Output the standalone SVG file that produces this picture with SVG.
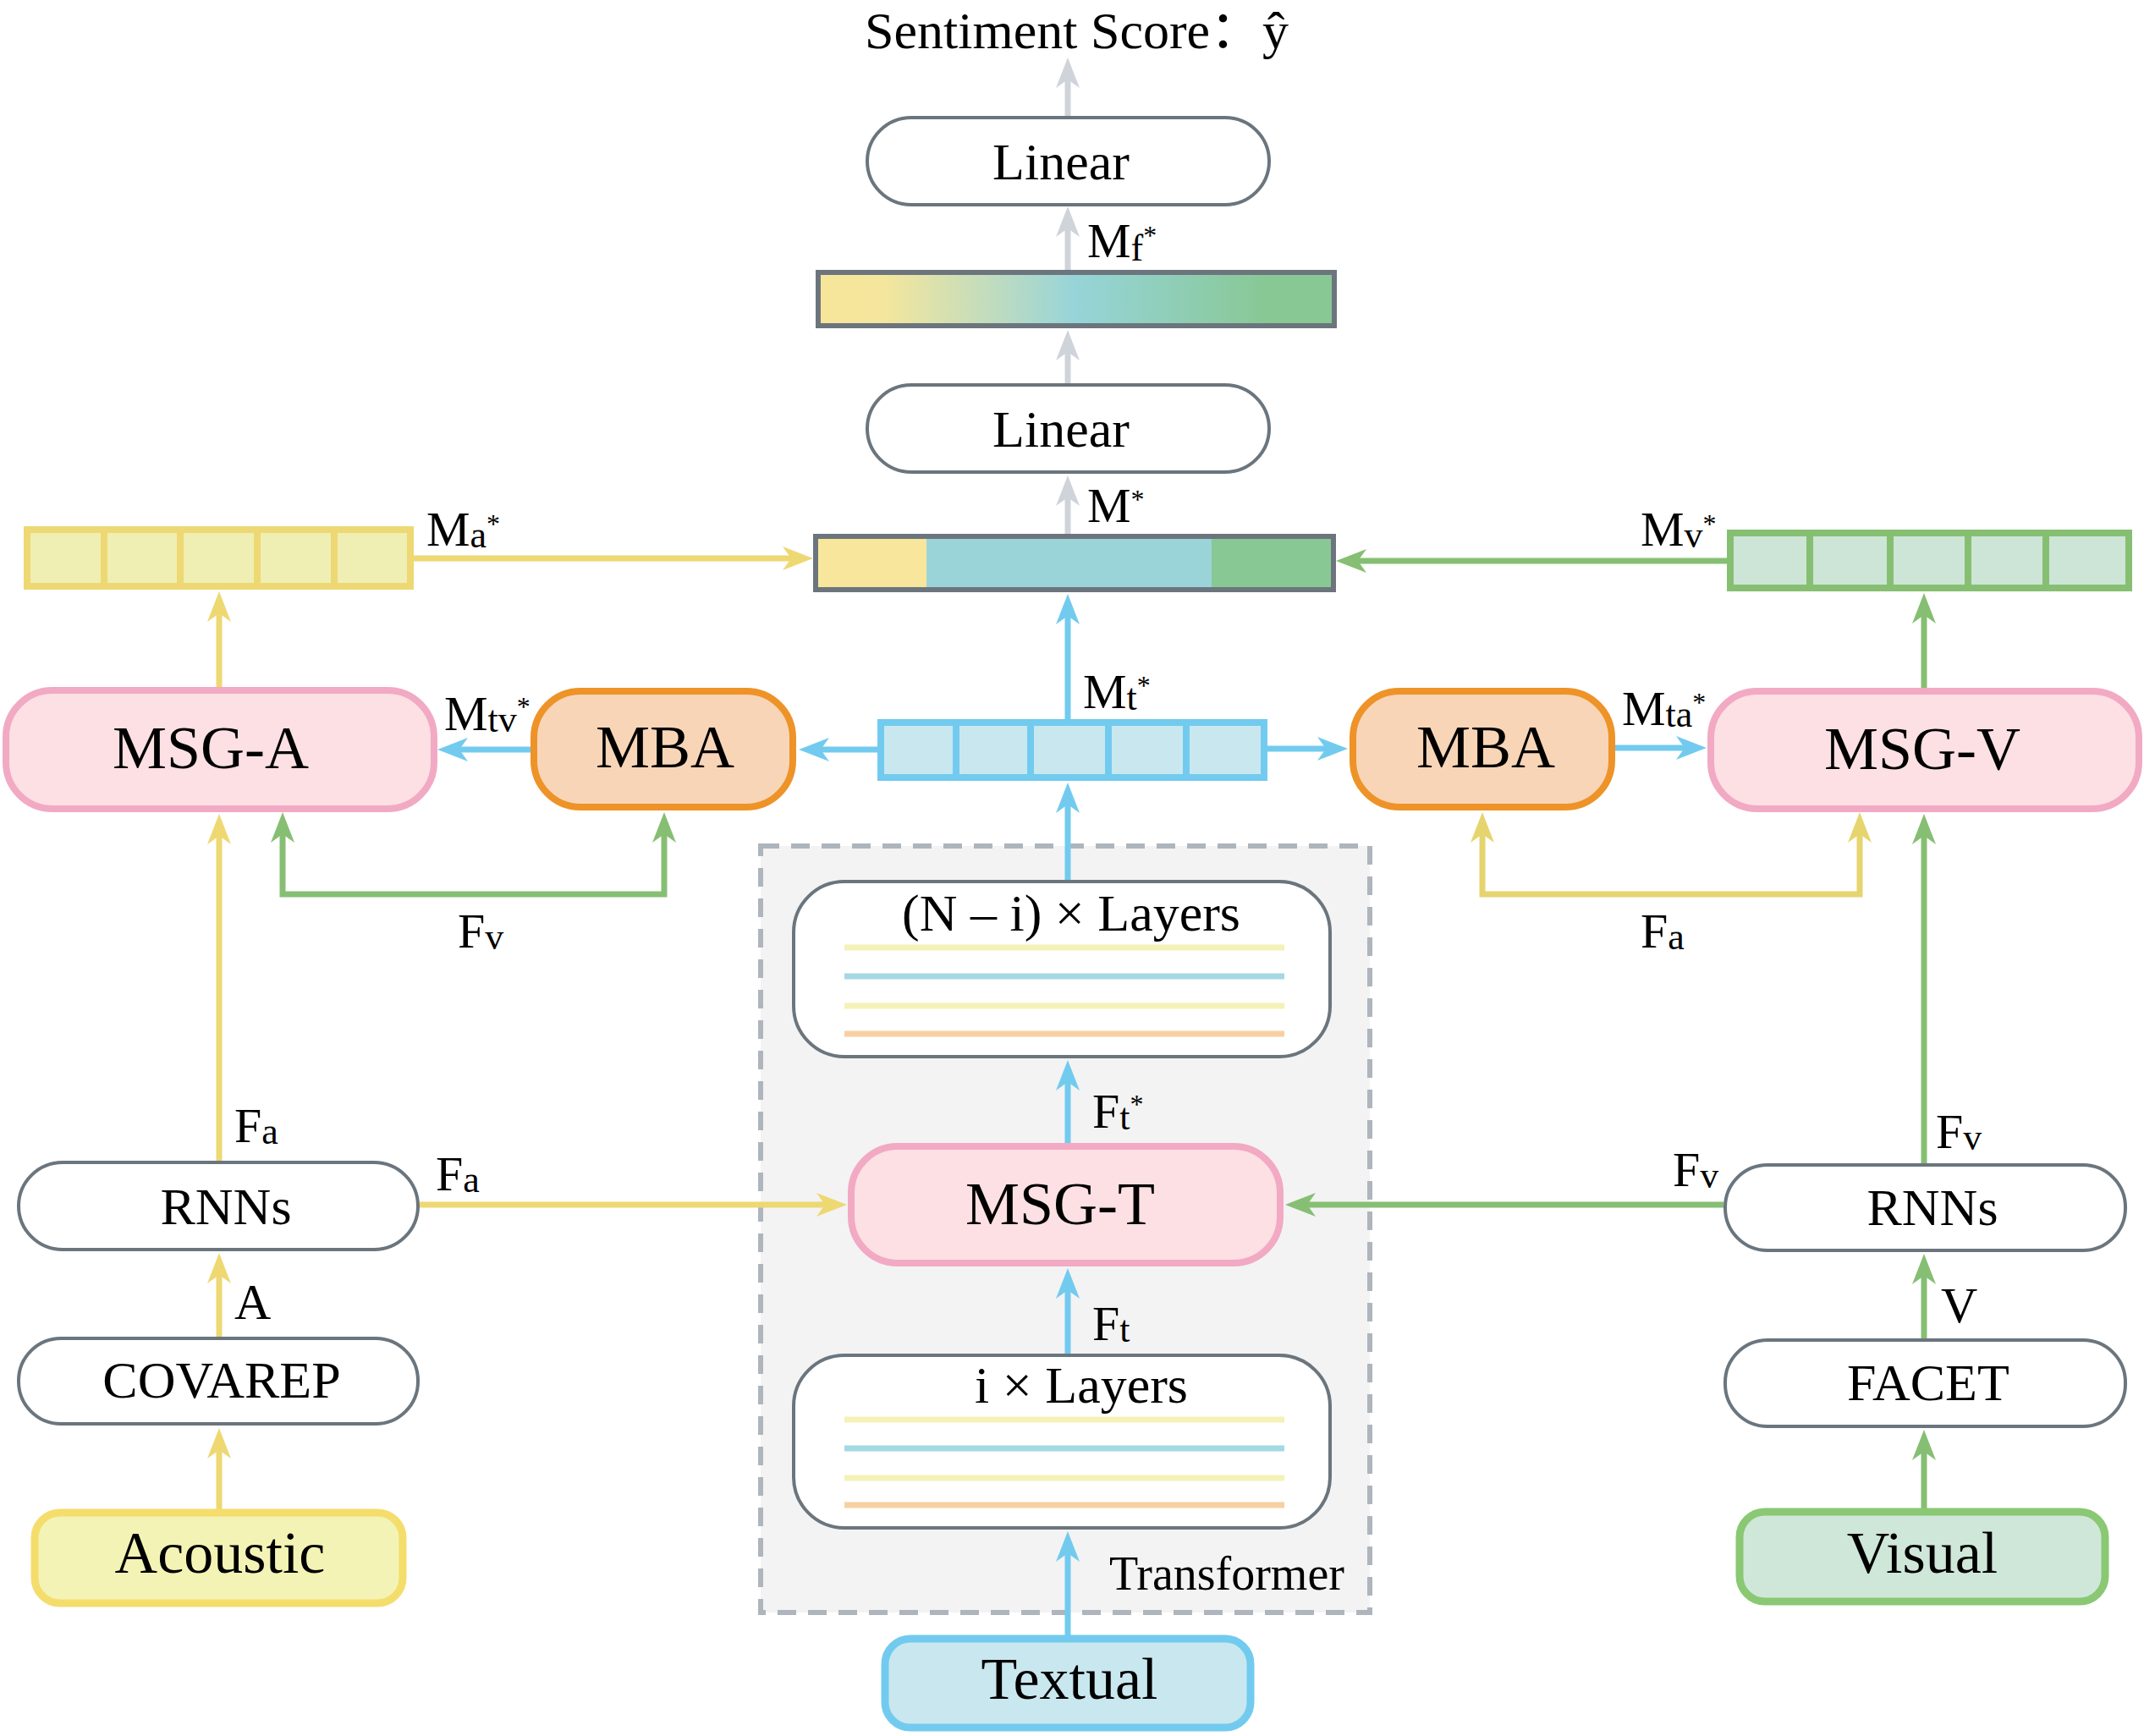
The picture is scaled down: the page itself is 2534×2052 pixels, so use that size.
<svg xmlns="http://www.w3.org/2000/svg" width="2534" height="2052" viewBox="0 0 2534 2052">
<style>
text{font-family:"Liberation Serif","Noto Sans CJK SC",serif;fill:#000}
.t62{font-size:62px;text-anchor:middle}
.t72{font-size:72px;text-anchor:middle}
.t70{font-size:70px;text-anchor:middle}
.lbl{font-size:58px}
.sub{font-size:44px}
.sup{font-size:32px}
.pill{fill:#fff;stroke:#6b757d;stroke-width:4}
.msg{fill:#fce0e3;stroke:#f2a9c4;stroke-width:8}
.mba{fill:#f9d5b8;stroke:#ee9328;stroke-width:8}
.c{fill:none;stroke-width:7}
.gy{stroke:#cfd4da}.bl{stroke:#72cbef}.ye{stroke:#eed872}.gr{stroke:#86bf73}.ye2{stroke:#e6d46f}
.lay{stroke-width:7}
</style>
<defs>
<marker id="mg" markerUnits="userSpaceOnUse" markerWidth="40" markerHeight="32" viewBox="0 -16 40 32" refX="10" refY="0" orient="auto"><path d="M0,-14 L36,0 L0,14 L10,0 Z" fill="#cfd4da"/></marker>
<marker id="mb" markerUnits="userSpaceOnUse" markerWidth="40" markerHeight="32" viewBox="0 -16 40 32" refX="10" refY="0" orient="auto"><path d="M0,-14 L36,0 L0,14 L10,0 Z" fill="#72cbef"/></marker>
<marker id="my" markerUnits="userSpaceOnUse" markerWidth="40" markerHeight="32" viewBox="0 -16 40 32" refX="10" refY="0" orient="auto"><path d="M0,-14 L36,0 L0,14 L10,0 Z" fill="#eed872"/></marker>
<marker id="my2" markerUnits="userSpaceOnUse" markerWidth="40" markerHeight="32" viewBox="0 -16 40 32" refX="10" refY="0" orient="auto-start-reverse"><path d="M0,-14 L36,0 L0,14 L10,0 Z" fill="#e6d46f"/></marker>
<marker id="mn" markerUnits="userSpaceOnUse" markerWidth="40" markerHeight="32" viewBox="0 -16 40 32" refX="10" refY="0" orient="auto"><path d="M0,-14 L36,0 L0,14 L10,0 Z" fill="#86bf73"/></marker>
<marker id="mn2" markerUnits="userSpaceOnUse" markerWidth="40" markerHeight="32" viewBox="0 -16 40 32" refX="10" refY="0" orient="auto-start-reverse"><path d="M0,-14 L36,0 L0,14 L10,0 Z" fill="#86bf73"/></marker>
<linearGradient id="grad" gradientUnits="userSpaceOnUse" x1="967" y1="0" x2="1577" y2="0">
<stop offset="0" stop-color="#f7e69a"/><stop offset="0.13" stop-color="#f4e69d"/><stop offset="0.5" stop-color="#96d4d9"/><stop offset="0.87" stop-color="#88c894"/><stop offset="1" stop-color="#88c894"/>
</linearGradient>
</defs>

<!-- transformer container -->
<g id="transformer">
<rect x="899" y="1000" width="720" height="906" fill="#f3f3f3" stroke="#aeb5bc" stroke-width="6" stroke-dasharray="22 14"/>
<text x="1311" y="1879" font-size="56">Transformer</text>
</g>

<g id="connectors">
<!-- gray -->
<line class="c gy" x1="1262" y1="139" x2="1262" y2="94" marker-end="url(#mg)"/>
<line class="c gy" x1="1262" y1="319" x2="1262" y2="270" marker-end="url(#mg)"/>
<line class="c gy" x1="1262" y1="453" x2="1262" y2="416" marker-end="url(#mg)"/>
<line class="c gy" x1="1262" y1="631" x2="1262" y2="588" marker-end="url(#mg)"/>
<!-- blue -->
<line class="c bl" x1="1262" y1="850" x2="1262" y2="728" marker-end="url(#mb)"/>
<line class="c bl" x1="1037" y1="886" x2="970" y2="886" marker-end="url(#mb)"/>
<line class="c bl" x1="1498" y1="885" x2="1567" y2="885" marker-end="url(#mb)"/>
<line class="c bl" x1="629" y1="886" x2="543" y2="886" marker-end="url(#mb)"/>
<line class="c bl" x1="1909" y1="884" x2="1991" y2="884" marker-end="url(#mb)"/>
<line class="c bl" x1="1262" y1="1040" x2="1262" y2="951" marker-end="url(#mb)"/>
<line class="c bl" x1="1262" y1="1351" x2="1262" y2="1279" marker-end="url(#mb)"/>
<line class="c bl" x1="1262" y1="1601" x2="1262" y2="1525" marker-end="url(#mb)"/>
<line class="c bl" x1="1262" y1="1935" x2="1262" y2="1836" marker-end="url(#mb)"/>
<!-- yellow -->
<line class="c ye" x1="489" y1="660" x2="935" y2="660" marker-end="url(#my)"/>
<line class="c ye" x1="259" y1="812" x2="259" y2="725" marker-end="url(#my)"/>
<line class="c ye" x1="259" y1="1372" x2="259" y2="988" marker-end="url(#my)"/>
<line class="c ye" x1="259" y1="1580" x2="259" y2="1507" marker-end="url(#my)"/>
<line class="c ye" x1="259" y1="1784" x2="259" y2="1714" marker-end="url(#my)"/>
<line class="c ye" x1="496" y1="1424" x2="975" y2="1424" marker-end="url(#my)"/>
<path class="c ye2" d="M1752,986 L1752,1057 L2198,1057 L2198,986" marker-start="url(#my2)" marker-end="url(#my2)"/>
<!-- green -->
<line class="c gr" x1="2041" y1="663" x2="1605" y2="663" marker-end="url(#mn)"/>
<line class="c gr" x1="2274" y1="813" x2="2274" y2="727" marker-end="url(#mn)"/>
<line class="c gr" x1="2274" y1="1375" x2="2274" y2="988" marker-end="url(#mn)"/>
<line class="c gr" x1="2274" y1="1582" x2="2274" y2="1508" marker-end="url(#mn)"/>
<line class="c gr" x1="2274" y1="1783" x2="2274" y2="1716" marker-end="url(#mn)"/>
<line class="c gr" x1="2037" y1="1424" x2="1545" y2="1424" marker-end="url(#mn)"/>
<path class="c gr" d="M334,986 L334,1057 L785,1057 L785,986" marker-start="url(#mn2)" marker-end="url(#mn2)"/>
</g>

<g id="title"><text x="1022" y="57" font-size="62">Sentiment Score：ŷ</text></g>

<g id="linear1"><rect class="pill" x="1025" y="139" width="475" height="103" rx="52"/><text class="t62" x="1254" y="212">Linear</text></g>
<g id="fused-bar"><rect x="967" y="322" width="610" height="63" fill="url(#grad)" stroke="#6c757d" stroke-width="6"/></g>
<g id="linear2"><rect class="pill" x="1025" y="455" width="475" height="103" rx="52"/><text class="t62" x="1254" y="528">Linear</text></g>
<g id="concat-bar">
<rect x="967" y="637" width="128" height="57" fill="#f7e69c"/>
<rect x="1095" y="637" width="337" height="57" fill="#9bd4d8"/>
<rect x="1432" y="637" width="141" height="57" fill="#88c894"/>
<rect x="964" y="634" width="612" height="63" fill="none" stroke="#6c757d" stroke-width="6"/>
</g>

<g id="ma-bar">
<rect x="32" y="626" width="453" height="67" fill="#efeeb3" stroke="#edd873" stroke-width="8"/>
<path d="M123,626V693M213,626V693M304,626V693M395,626V693" stroke="#edd873" stroke-width="8"/>
</g>
<g id="mv-bar">
<rect x="2045" y="630" width="471" height="65" fill="#cde5d6" stroke="#86bf72" stroke-width="8"/>
<path d="M2139,630V695M2234,630V695M2326,630V695M2418,630V695" stroke="#86bf72" stroke-width="8"/>
</g>
<g id="mt-bar">
<rect x="1041" y="854" width="453" height="65" fill="#c9e7ef" stroke="#72cbef" stroke-width="8"/>
<path d="M1130,854V919M1218,854V919M1310,854V919M1402,854V919" stroke="#72cbef" stroke-width="8"/>
</g>

<g id="msg-a"><rect class="msg" x="7" y="816" width="506" height="140" rx="55"/><text class="t72" x="249" y="908">MSG-A</text></g>
<g id="mba-left"><rect class="mba" x="631" y="817" width="306" height="137" rx="55"/><text class="t72" x="786" y="907">MBA</text></g>
<g id="mba-right"><rect class="mba" x="1599" y="817" width="306" height="137" rx="55"/><text class="t72" x="1756" y="907">MBA</text></g>
<g id="msg-v"><rect class="msg" x="2022" y="817" width="506" height="139" rx="55"/><text class="t72" x="2272" y="909">MSG-V</text></g>

<g id="layers-top">
<rect class="pill" x="938" y="1042" width="634" height="207" rx="60"/>
<text class="t62" x="1266" y="1100">(N – i) × Layers</text>
<line class="lay" x1="998" y1="1120" x2="1518" y2="1120" stroke="#f4f2b6"/>
<line class="lay" x1="998" y1="1154" x2="1518" y2="1154" stroke="#a4d8e4"/>
<line class="lay" x1="998" y1="1189" x2="1518" y2="1189" stroke="#f4f2b6"/>
<line class="lay" x1="998" y1="1222" x2="1518" y2="1222" stroke="#f7d0a2"/>
</g>
<g id="msg-t"><rect class="msg" x="1006" y="1355" width="507" height="138" rx="55"/><text class="t72" x="1253" y="1447">MSG-T</text></g>
<g id="layers-bottom">
<rect class="pill" x="938" y="1602" width="634" height="204" rx="60"/>
<text class="t62" x="1278" y="1658">i × Layers</text>
<line class="lay" x1="998" y1="1678" x2="1518" y2="1678" stroke="#f4f2b6"/>
<line class="lay" x1="998" y1="1712" x2="1518" y2="1712" stroke="#a4d8e4"/>
<line class="lay" x1="998" y1="1747" x2="1518" y2="1747" stroke="#f4f2b6"/>
<line class="lay" x1="998" y1="1779" x2="1518" y2="1779" stroke="#f7d0a2"/>
</g>
<g id="textual"><rect x="1046" y="1937" width="432" height="105" rx="30" fill="#c9e7ef" stroke="#72cbef" stroke-width="9"/><text class="t70" x="1264" y="2008">Textual</text></g>

<g id="rnns-left"><rect class="pill" x="22" y="1374" width="472" height="103" rx="52"/><text class="t62" x="267" y="1447">RNNs</text></g>
<g id="covarep"><rect class="pill" x="22" y="1582" width="472" height="101" rx="50"/><text class="t62" x="262" y="1652">COVAREP</text></g>
<g id="acoustic"><rect x="41" y="1788" width="435" height="107" rx="30" fill="#f3f3b5" stroke="#f5dd6c" stroke-width="9"/><text class="t70" x="260" y="1859">Acoustic</text></g>

<g id="rnns-right"><rect class="pill" x="2039" y="1377" width="473" height="101" rx="50"/><text class="t62" x="2284" y="1448">RNNs</text></g>
<g id="facet"><rect class="pill" x="2039" y="1584" width="473" height="102" rx="50"/><text class="t62" x="2279" y="1655">FACET</text></g>
<g id="visual"><rect x="2056" y="1787" width="432" height="106" rx="30" fill="#cfe7d8" stroke="#8ac874" stroke-width="9"/><text class="t70" x="2272" y="1859">Visual</text></g>

<g id="labels">
<text class="lbl" x="1285" y="304">M<tspan class="sub" y="308">f</tspan><tspan class="sup" y="289">*</tspan></text>
<text class="lbl" x="1285" y="617">M<tspan class="sup" y="601">*</tspan></text>
<text class="lbl" x="1280" y="837">M<tspan class="sub" y="839">t</tspan><tspan class="sup" y="821">*</tspan></text>
<text class="lbl" x="504" y="645">M<tspan class="sub" y="647">a</tspan><tspan class="sup" y="630">*</tspan></text>
<text class="lbl" x="1939" y="645">M<tspan class="sub" y="647">v</tspan><tspan class="sup" y="630">*</tspan></text>
<text class="lbl" x="525" y="863">M<tspan class="sub" y="865">tv</tspan><tspan class="sup" y="846">*</tspan></text>
<text class="lbl" x="1917" y="857">M<tspan class="sub" y="859">ta</tspan><tspan class="sup" y="841">*</tspan></text>
<text class="lbl" x="1291" y="1333">F<tspan class="sub" y="1335">t</tspan><tspan class="sup" y="1316">*</tspan></text>
<text class="lbl" x="1291" y="1584">F<tspan class="sub" y="1586">t</tspan></text>
<text class="lbl" x="541" y="1120">F<tspan class="sub" y="1122">v</tspan></text>
<text class="lbl" x="1939" y="1120">F<tspan class="sub" y="1122">a</tspan></text>
<text class="lbl" x="277" y="1350">F<tspan class="sub" y="1352">a</tspan></text>
<text class="lbl" x="515" y="1407">F<tspan class="sub" y="1409">a</tspan></text>
<text class="lbl" x="2288" y="1357">F<tspan class="sub" y="1359">v</tspan></text>
<text class="lbl" x="1977" y="1402">F<tspan class="sub" y="1404">v</tspan></text>
<text x="277" y="1559" font-size="60">A</text>
<text x="2294" y="1563" font-size="60">V</text>
</g>
</svg>
